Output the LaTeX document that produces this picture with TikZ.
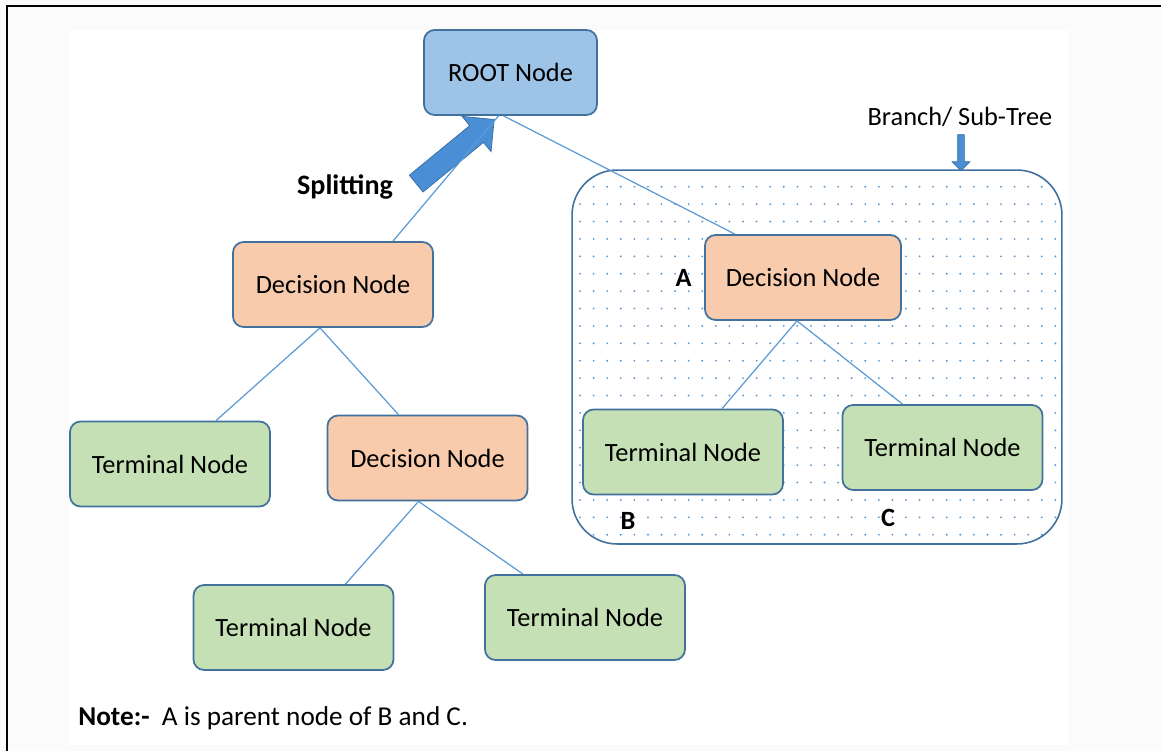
\documentclass[tikz,border=0pt]{standalone}
\usepackage{fontspec}
\setmainfont{Carlito}
\usetikzlibrary{arrows.meta, positioning, calc, shapes.arrows}
\definecolor{rootBlue}{HTML}{9DC3E6}
\definecolor{decisionPeach}{HTML}{F8CBAD}
\definecolor{terminalGreen}{HTML}{C5E0B4}
\definecolor{edgeBlue}{HTML}{41719C}
\definecolor{linkBlue}{HTML}{5B9BD5}
\definecolor{arrowBlue}{HTML}{4A8FD6}
\definecolor{pageGray}{HTML}{FBFBFB}
\newcommand{\treefont}{\fontsize{15}{18}\selectfont}
\tikzset{
    tree_node/.style={
        rectangle, rounded corners=6pt, draw=edgeBlue, line width=1pt,
        minimum width=4cm, minimum height=1.7cm, inner sep=2pt,
        align=center, font=\treefont
    },
    root_node/.style={tree_node, fill=rootBlue, minimum width=3.46cm},
    decision_node/.style={tree_node, fill=decisionPeach},
    terminal_node/.style={tree_node, fill=terminalGreen},
    branch_box/.style={
        rectangle, rounded corners=0.9cm, draw=edgeBlue, line width=0.9pt,
        minimum width=9.8cm, minimum height=7.48cm,
        path picture={
            \foreach \col in {0,...,35}
                \foreach \row in {0,...,20}
                    \fill[linkBlue] ($(path picture bounding box.north west)+(8+\col*13.58, 16.7+\row*17.4)$) circle (0.6pt);
        }
    },
    tree_link/.style={draw=linkBlue, line width=0.7pt},
    block_arrow/.style={
        single arrow, fill=arrowBlue, draw=arrowBlue!75!black, line width=0.4pt,
        inner xsep=0pt, single arrow tip angle=90
    },
    letter_lbl/.style={font=\fontsize{15}{18}\selectfont\bfseries, inner sep=1pt}
}

\begin{document}
\begin{tikzpicture}[x=0.02cm, y=-0.02cm]

    % page and frame
    \useasboundingbox (0,0) rectangle (1161,751);
    \fill[pageGray] (0,0) rectangle (1161,751);
    \fill[white] (69,30) rectangle (1068,745);
    \draw[line width=1.5pt] (1161,6) -- (7,6) -- (7,751);

    % sub-tree region
    \node[branch_box] (branch) at (817,357) {};
    \node[font=\treefont] (branch_lbl) at (960,117) {Branch/ Sub-Tree};
    \node[block_arrow, rotate=-90, minimum height=0.72cm, inner ysep=0.06cm,
          single arrow head extend=0.11cm] (branch_arrow) at (961,151) {};

    % root
    \node[root_node] (root) at (510.5,72.5) {ROOT Node};

    % left side of the tree
    \node[decision_node] (dec_left) at (333,284.5) {Decision Node};
    \node[terminal_node] (term_left) at (170,464) {Terminal Node};
    \node[decision_node] (dec_mid) at (427.5,458) {Decision Node};
    \node[terminal_node] (term_low_a) at (293.5,627.5) {Terminal Node};
    \node[terminal_node] (term_low_b) at (585,617.5) {Terminal Node};

    % sub-tree nodes
    \node[decision_node, minimum width=3.92cm] (dec_a) at (803,277.5) {Decision Node};
    \node[terminal_node] (term_b) at (683,452) {Terminal Node};
    \node[terminal_node] (term_c) at (942.5,447.5) {Terminal Node};

    % letters
    \node[letter_lbl, left=6pt of dec_a] (lbl_a) {A};
    \node[letter_lbl] (lbl_b) at (628,521) {B};
    \node[letter_lbl] (lbl_c) at (888,518) {C};

    % splitting
    \node[block_arrow, rotate=39.4, minimum height=2.02cm, inner ysep=0.21cm,
          single arrow head extend=0.24cm] (split_arrow) at (451,155) {};
    \node[font=\fontsize{16}{19}\selectfont\bfseries] (split_lbl) at (345,187) {Splitting};

    % links
    \draw[tree_link] ([xshift=-0.24cm]root.south) -- ([xshift=1.2cm]dec_left.north);
    \draw[tree_link] ([xshift=-0.14cm]root.south) -- ([xshift=-1.36cm]dec_a.north);
    \draw[tree_link] ([xshift=-0.26cm]dec_left.south) -- ([xshift=0.92cm]term_left.north);
    \draw[tree_link] ([xshift=-0.26cm]dec_left.south) -- ([xshift=-0.58cm]dec_mid.north);
    \draw[tree_link] ([xshift=-0.18cm]dec_mid.south) -- ([xshift=1.04cm]term_low_a.north);
    \draw[tree_link] ([xshift=-0.18cm]dec_mid.south) -- ([xshift=-1.24cm]term_low_b.north);
    \draw[tree_link] ([xshift=-0.12cm]dec_a.south) -- ([xshift=0.78cm]term_b.north);
    \draw[tree_link] ([xshift=-0.12cm]dec_a.south) -- ([xshift=-0.8cm]term_c.north);

    % note
    \node[anchor=west, font=\fontsize{15.5}{18}\selectfont, inner sep=0pt] (note) at (78,718) {\textbf{Note:-}\ \ A is parent node of B and C.};

\end{tikzpicture}
\end{document}
